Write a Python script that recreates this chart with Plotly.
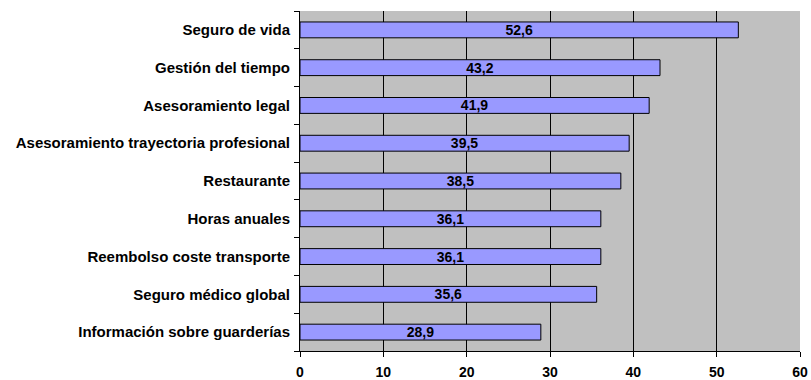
import plotly.graph_objects as go

categories = [
    "Seguro de vida",
    "Gestión del tiempo",
    "Asesoramiento legal",
    "Asesoramiento trayectoria profesional",
    "Restaurante",
    "Horas anuales",
    "Reembolso coste transporte",
    "Seguro médico global",
    "Información sobre guarderías",
]
values = [52.6, 43.2, 41.9, 39.5, 38.5, 36.1, 36.1, 35.6, 28.9]
x_ticks = [0, 10, 20, 30, 40, 50, 60]

labels = [f"{v:.1f}".replace(".", ",") for v in values]
FONT = "Arial, Liberation Sans, sans-serif"

fig = go.Figure(go.Bar(
    y=categories,
    x=values,
    orientation="h",
    marker=dict(color="#9999FF", line=dict(color="#000000", width=1)),
    width=0.42,
    text=labels,
    textposition="inside",
    insidetextanchor="middle",
    textangle=0,
    textfont=dict(family=FONT, size=14, color="#000000", weight="bold"),
    cliponaxis=False,
))

fig.update_layout(
    width=811, height=380,
    margin=dict(l=300, r=11, t=11, b=29),
    paper_bgcolor="#FFFFFF",
    plot_bgcolor="#C0C0C0",
    showlegend=False,
    uniformtext=dict(minsize=14, mode="show"),
    font=dict(family=FONT, size=14, color="#000000"),
)
fig.update_xaxes(
    range=[0, 60],
    tickvals=x_ticks,
    ticktext=[str(t) for t in x_ticks],
    showgrid=True, gridcolor="#000000", gridwidth=1,
    zeroline=False,
    showline=True, linecolor="#000000", linewidth=1,
    ticks="outside", ticklen=5, tickcolor="#000000",
    ticklabelstandoff=3,
    automargin=False,
    tickfont=dict(family=FONT, size=14, color="#000000", weight="bold"),
    fixedrange=True,
)
fig.update_yaxes(
    categoryorder="array",
    categoryarray=categories[::-1],
    autorange=False,
    range=[-0.5, len(categories) - 0.5],
    showline=True, linecolor="#000000", linewidth=1,
    ticks="outside", ticklen=5, tickcolor="#000000",
    tickson="boundaries",
    showgrid=False,
    ticklabelstandoff=6,
    automargin=False,
    tickfont=dict(family=FONT, size=15, color="#000000", weight="bold"),
    fixedrange=True,
)

fig.write_html("out.html")
